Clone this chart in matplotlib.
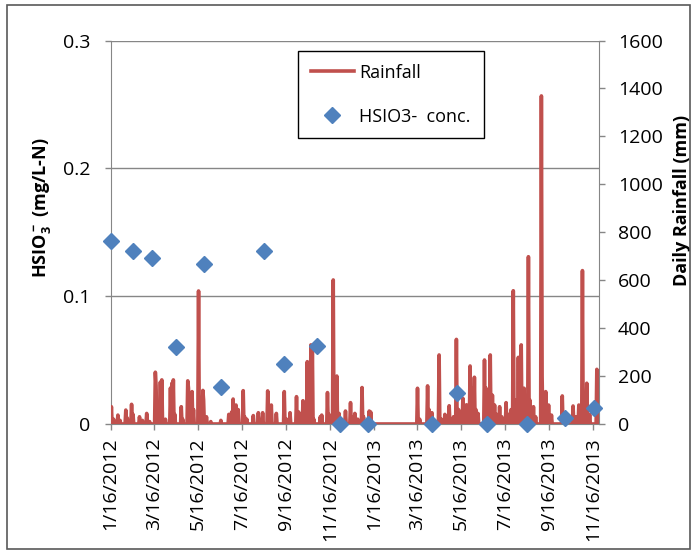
import matplotlib
matplotlib.use('Agg')
import matplotlib.pyplot as plt
from matplotlib.lines import Line2D
from matplotlib.patches import Rectangle
import pandas as pd

# daily rainfall (mm) on rain days, all other days are dry
rain_dates = ['2012-01-17', '2012-01-20', '2012-01-26', '2012-01-29', '2012-02-06', '2012-02-08',
              '2012-02-14', '2012-02-16', '2012-02-25', '2012-02-29', '2012-03-06', '2012-03-10',
              '2012-03-18', '2012-03-19', '2012-03-21', '2012-03-25', '2012-03-27', '2012-04-01',
              '2012-04-08', '2012-04-10', '2012-04-12', '2012-04-14', '2012-04-23', '2012-04-25',
              '2012-05-02', '2012-05-03', '2012-05-08', '2012-05-10', '2012-05-17', '2012-05-19',
              '2012-05-23', '2012-05-24', '2012-05-28', '2012-06-03', '2012-06-17', '2012-06-28',
              '2012-07-02', '2012-07-04', '2012-07-08', '2012-07-11', '2012-07-18', '2012-07-20',
              '2012-07-23', '2012-08-01', '2012-08-08', '2012-08-14', '2012-08-21', '2012-08-26',
              '2012-09-02', '2012-09-13', '2012-09-16', '2012-09-21', '2012-09-30', '2012-10-03',
              '2012-10-09', '2012-10-12', '2012-10-15', '2012-10-17', '2012-10-20', '2012-10-22',
              '2012-10-24', '2012-11-02', '2012-11-04', '2012-11-12', '2012-11-14', '2012-11-20',
              '2012-11-22', '2012-11-25', '2012-11-28', '2012-12-07', '2012-12-14', '2012-12-17',
              '2012-12-20', '2012-12-24', '2012-12-30', '2013-01-01', '2013-01-09', '2013-01-11',
              '2013-03-17', '2013-03-20', '2013-03-31', '2013-04-02', '2013-04-06', '2013-04-16',
              '2013-04-19', '2013-04-24', '2013-04-30', '2013-05-06', '2013-05-10', '2013-05-13',
              '2013-05-14', '2013-05-19', '2013-05-21', '2013-05-24', '2013-05-29', '2013-06-01',
              '2013-06-04', '2013-06-06', '2013-06-09', '2013-06-18', '2013-06-20', '2013-06-22',
              '2013-06-26', '2013-06-29', '2013-07-02', '2013-07-05', '2013-07-09', '2013-07-12',
              '2013-07-18', '2013-07-21', '2013-07-25', '2013-07-28', '2013-07-31', '2013-08-04',
              '2013-08-08', '2013-08-12', '2013-08-15', '2013-08-18', '2013-08-20', '2013-08-25',
              '2013-08-28', '2013-09-05', '2013-09-06', '2013-09-11', '2013-09-15', '2013-09-19',
              '2013-10-04', '2013-10-08', '2013-10-19', '2013-10-23', '2013-10-27', '2013-11-01',
              '2013-11-04', '2013-11-07', '2013-11-11', '2013-11-21', '2013-11-23']
rain_mm = [72, 20, 37, 15, 58, 25,
           82, 40, 30, 15, 44, 10,
           216, 160, 30, 175, 184, 20,
           150, 170, 184, 40, 72, 20,
           180, 150, 135, 60, 555, 30,
           140, 100, 30, 10, 15, 40,
           50, 104, 79, 60, 139, 30,
           20, 35, 47, 47, 138, 79,
           44, 135, 20, 47, 114, 50,
           97, 60, 260, 150, 330, 320,
           20, 30, 37, 131, 40, 601,
           120, 200, 44, 54, 89, 30,
           44, 20, 152, 30, 54, 50,
           149, 20, 159, 60, 47, 288,
           20, 40, 76, 30, 353, 60,
           40, 107, 50, 80, 242, 150,
           195, 60, 44, 267, 150, 80,
           288, 120, 79, 40, 72, 30,
           89, 40, 60, 556, 100, 278,
           330, 149, 60, 698, 100, 72,
           30, 1369, 200, 135, 79, 37,
           117, 20, 75, 30, 79, 640,
           80, 170, 40, 228, 30]
start_date = '2012-01-16'
end_date = '2013-11-24'

# HSIO3- concentration samples (mg/L-N)
conc_dates = ['2012-01-16', '2012-02-16', '2012-03-14', '2012-04-15', '2012-05-25', '2012-06-17',
              '2012-08-16', '2012-09-13', '2012-10-29', '2012-11-29', '2013-01-07', '2013-04-06',
              '2013-05-11', '2013-06-21', '2013-08-16', '2013-10-08', '2013-11-17']
conc = [0.143, 0.135, 0.130, 0.060, 0.125, 0.029,
        0.135, 0.047, 0.061, 0.0, 0.0, 0.0,
        0.024, 0.0, 0.0, 0.005, 0.0125]

tick_labels = ['1/16/2012', '3/16/2012', '5/16/2012', '7/16/2012', '9/16/2012', '11/16/2012',
               '1/16/2013', '3/16/2013', '5/16/2013', '7/16/2013', '9/16/2013', '11/16/2013']
left_ticks = [0, 0.1, 0.2, 0.3]
left_labels = ['0', '0.1', '0.2', '0.3']
right_ticks = [0, 200, 400, 600, 800, 1000, 1200, 1400, 1600]

plt.rcParams['font.family'] = ['Open Sans', 'DejaVu Sans']
plt.rcParams['mathtext.fontset'] = 'custom'
plt.rcParams['mathtext.bf'] = 'Open Sans:bold'
plt.rcParams['mathtext.rm'] = 'Open Sans:bold'
plt.rcParams['mathtext.default'] = 'bf'

red = '#C0504D'
blue = '#4F81BD'
gray = '#868686'

days = pd.date_range(start_date, end_date, freq='D')
rain = pd.Series(0.0, index=days)
rain[pd.to_datetime(rain_dates)] = rain_mm

fig = plt.figure(figsize=(6.97, 5.54), dpi=100)
ax = fig.add_axes([0.1588, 0.2347, 0.7006, 0.6921])
ax2 = ax.twinx()

# outer chart border
fig.patches.append(Rectangle((7 / 697, 5 / 554), 683 / 697, 544 / 554, transform=fig.transFigure,
                             fill=False, edgecolor='#595959', linewidth=1.2))

ax.set_ylim(0, 0.3)
ax.set_yticks(left_ticks)
ax.set_yticklabels(left_labels)
ax.set_xlim(pd.Timestamp(start_date), pd.Timestamp(end_date))
ax.grid(axis='y', color=gray, linewidth=1)
ax.set_axisbelow(True)

ax2.plot(rain.index, rain.values, color=red, linewidth=2.6, solid_joinstyle='round', zorder=2)
ax2.plot(pd.to_datetime(conc_dates), conc, linestyle='none', marker='D', markersize=8,
         color=blue, markeredgecolor=blue, transform=ax.transData, zorder=3, clip_on=False)
ax2.set_ylim(0, 1600)
ax2.set_yticks(right_ticks)
ax2.set_xlim(pd.Timestamp(start_date), pd.Timestamp(end_date))

tick_pos = pd.to_datetime(tick_labels, format='%m/%d/%Y')
ax.set_xticks(tick_pos)
ax.set_xticklabels(tick_labels, rotation=90)

for a in (ax, ax2):
    for s in a.spines.values():
        s.set_visible(False)
    a.tick_params(labelsize=14, colors=gray, labelcolor='black', length=4.5, width=1)
ax.tick_params(axis='y', pad=10)
ax.tick_params(axis='x', pad=5)
ax2.tick_params(axis='y', pad=9)
ax.spines['left'].set_visible(True)
ax.spines['left'].set_color(gray)
ax.spines['bottom'].set_visible(True)
ax.spines['bottom'].set_color(gray)
ax2.spines['right'].set_visible(True)
ax2.spines['right'].set_color(gray)

ax.set_ylabel('HSIO$_3^-$ (mg/L-N)', fontsize=13, fontweight='bold')
ax.yaxis.set_label_coords(-0.119, 0.563)
ax2.set_ylabel('Daily Rainfall (mm)', fontsize=13, fontweight='bold')
ax2.yaxis.set_label_coords(1.152, 0.584)

handles = [Line2D([], [], color=red, linewidth=2.6),
           Line2D([], [], linestyle='none', marker='D', markersize=8, color=blue)]
leg = ax2.legend(handles, ['Rainfall', 'HSIO3-  conc.'], loc='upper left',
                 bbox_to_anchor=(0.3836, 0.973), borderaxespad=0, fontsize=13, fancybox=False,
                 edgecolor='black', framealpha=1, handlelength=2.4, labelspacing=1.45,
                 borderpad=0.7, handletextpad=0.3)
leg.get_frame().set_linewidth(1)

fig.savefig('out.png', dpi=100)
